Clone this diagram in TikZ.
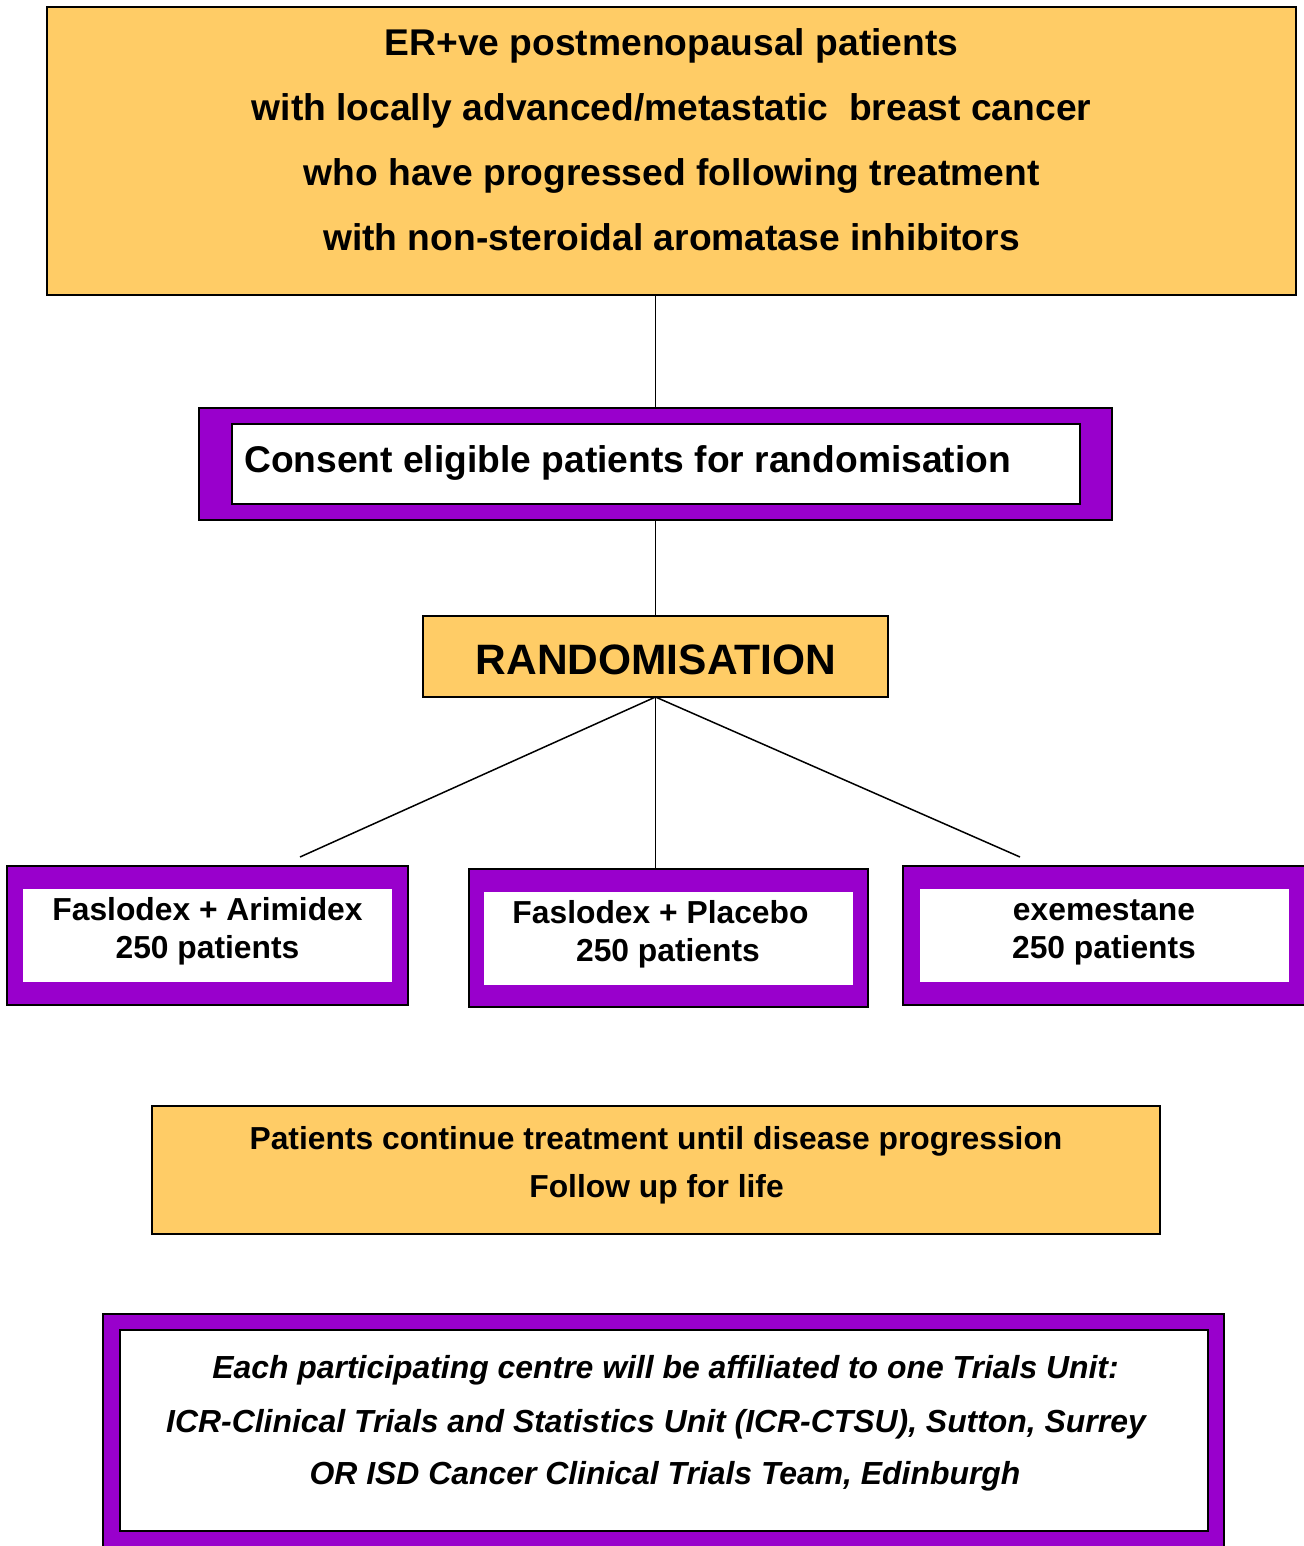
\documentclass[tikz,border=0pt]{standalone}
\usepackage{fontspec}
\setmainfont{Liberation Sans}
\definecolor{boxorange}{HTML}{FFCC66}
\definecolor{boxpurple}{HTML}{9900CC}
\newcommand\fsTop{\fontsize{37.2}{44}\selectfont\bfseries}
\newcommand\fsRand{\fontsize{42.5}{50}\selectfont\bfseries}
\newcommand\fsArm{\fontsize{31.8}{38}\selectfont\bfseries}
\newcommand\fsUnit{\fontsize{31.9}{38}\selectfont\bfseries\itshape}
\tikzset{
  orangebox/.style={draw=black, line width=1.5pt, fill=boxorange, inner sep=0pt, outer sep=0pt, anchor=north west},
  purplebox/.style={draw=black, line width=1.5pt, fill=boxpurple, inner sep=0pt, outer sep=0pt, anchor=north west},
  whitebox/.style={fill=white, inner sep=0pt, outer sep=0pt, anchor=north west},
  whiteframed/.style={whitebox, draw=black, line width=1.5pt},
  txt/.style={inner sep=0pt, anchor=base},
  conn/.style={draw=black, line width=1.5pt}
}
\begin{document}
\begin{tikzpicture}[x=1pt,y=-1pt]
\useasboundingbox (0,0) rectangle (1303,1546);
% top box
\node[orangebox, minimum width=1249pt, minimum height=288pt] (top) at (47,7) {};
\node[txt, font=\fsTop] (top1) at (671.5,55.7) {ER+ve postmenopausal patients};
\node[txt, font=\fsTop] (top2) at (671.5,120.5) {with locally advanced/metastatic\ \ breast cancer};
\node[txt, font=\fsTop] (top3) at (671.5,185.5) {who have progressed following treatment};
\node[txt, font=\fsTop] (top4) at (671.5,250.5) {with non-steroidal aromatase inhibitors};
% consent
\node[purplebox, minimum width=913pt, minimum height=112pt] (consentOuter) at (199,408) {};
\node[whiteframed, minimum width=848pt, minimum height=80pt] (consentInner) at (232,424) {};
\node[txt, anchor=base west, font=\fsTop] (consentText) at (244,472) {Consent eligible patients for randomisation};
% randomisation
\node[orangebox, minimum width=465pt, minimum height=81pt] (rand) at (423,616) {};
\node[txt, font=\fsRand] (randText) at (656,674) {RANDOMISATION};
% arm 1
\node[purplebox, minimum width=401pt, minimum height=139pt] (arm1Outer) at (7,866) {};
\node[whitebox, minimum width=369pt, minimum height=93pt] (arm1Inner) at (23,889) {};
\node[txt, font=\fsArm] (arm1a) at (207.5,920) {Faslodex + Arimidex};
\node[txt, font=\fsArm] (arm1b) at (207.5,958) {250 patients};
% arm 2
\node[purplebox, minimum width=399pt, minimum height=138pt] (arm2Outer) at (469,869) {};
\node[whitebox, minimum width=369pt, minimum height=93pt] (arm2Inner) at (484,892) {};
\node[txt, font=\fsArm] (arm2a) at (660.5,923) {Faslodex + Placebo};
\node[txt, font=\fsArm] (arm2b) at (668,961) {250 patients};
% arm 3
\node[purplebox, minimum width=404pt, minimum height=139pt] (arm3Outer) at (903,866) {};
\node[whitebox, minimum width=369pt, minimum height=93pt] (arm3Inner) at (920,889) {};
\node[txt, font=\fsArm] (arm3a) at (1104,920) {exemestane};
\node[txt, font=\fsArm] (arm3b) at (1104,958) {250 patients};
% follow-up
\node[orangebox, minimum width=1008pt, minimum height=128pt] (follow) at (152,1106) {};
\node[txt, font=\fsArm] (follow1) at (656,1149) {Patients continue treatment until disease progression};
\node[txt, font=\fsArm] (follow2) at (656.5,1197) {Follow up for life};
% trials unit
\node[purplebox, minimum width=1121pt, minimum height=240pt] (unitOuter) at (103,1314) {};
\node[whiteframed, minimum width=1088pt, minimum height=201pt] (unitInner) at (120,1330) {};
\node[txt, font=\fsUnit] (unit1) at (665.5,1378) {Each participating centre will be affiliated to one Trials Unit:};
\node[txt, font=\fsUnit] (unit2) at (656,1432) {ICR-Clinical Trials and Statistics Unit (ICR-CTSU), Sutton, Surrey};
\node[txt, font=\fsUnit] (unit3) at (665,1484) {OR ISD Cancer Clinical Trials Team, Edinburgh};
% connectors
\coordinate (end1) at (300,857);
\coordinate (end3) at (1020,857);
\draw[conn] (top.south -| consentOuter.north) -- (consentOuter.north);
\draw[conn] (consentOuter.south) -- (rand.north);
\draw[conn] (rand.south) -- (end1);
\draw[conn] (rand.south) -- (rand.south |- arm2Outer.north);
\draw[conn] (rand.south) -- (end3);
\end{tikzpicture}
\end{document}
